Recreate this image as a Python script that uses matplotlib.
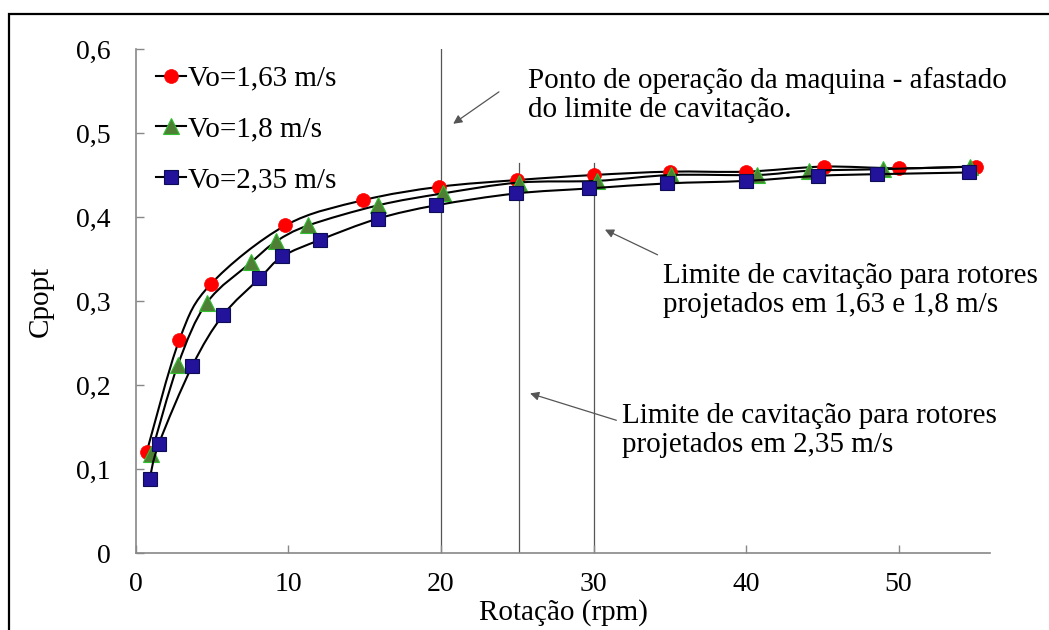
import matplotlib.pyplot as plt
from matplotlib.lines import Line2D
from matplotlib.patches import PathPatch, Rectangle
from matplotlib.path import Path

plt.rcParams["font.family"] = ["Liberation Serif", "DejaVu Serif"]

# data
x_163 = [0.7, 2.85, 4.9, 9.8, 14.9, 19.9, 25.0, 30.0, 35.0, 40.0, 45.1, 50.0, 55.1]
y_163 = [0.120, 0.254, 0.320, 0.390, 0.420, 0.436, 0.444, 0.450, 0.454, 0.454, 0.460, 0.458, 0.460]

x_18 = [1.0, 2.75, 4.65, 7.55, 9.2, 11.3, 15.9, 20.1, 25.1, 30.2, 35.1, 40.7, 44.1, 49.0, 54.7]
y_18 = [0.118, 0.224, 0.298, 0.346, 0.371, 0.390, 0.414, 0.428, 0.441, 0.443, 0.450, 0.450, 0.455, 0.457, 0.460]

x_235 = [0.9, 1.5, 3.7, 5.7, 8.1, 9.6, 12.1, 15.85, 19.7, 24.9, 29.7, 34.8, 40.0, 44.7, 48.6, 54.6]
y_235 = [0.088, 0.130, 0.223, 0.283, 0.327, 0.353, 0.373, 0.398, 0.414, 0.428, 0.434, 0.440, 0.443, 0.449, 0.451, 0.453]

labels = ["Vo=1,63 m/s", "Vo=1,8 m/s", "Vo=2,35 m/s"]

vline_x = [20, 25.1, 30]
vline_top = [0.6, 0.464, 0.464]

x_ticks = [0, 10, 20, 30, 40, 50]
y_ticks = [0, 0.1, 0.2, 0.3, 0.4, 0.5, 0.6]
y_tick_labels = ["0", "0,1", "0,2", "0,3", "0,4", "0,5", "0,6"]

notes = [
    "Ponto de operação da maquina - afastado\ndo limite de cavitação.",
    "Limite de cavitação para rotores\nprojetados em 1,63 e 1,8 m/s",
    "Limite de cavitação para rotores\nprojetados em 2,35 m/s",
]
note_xy = [(25.7, 0.545), (34.56, 0.313), (31.87, 0.146)]
arrow_head = [(20.8, 0.511), (30.75, 0.385), (25.84, 0.190)]
arrow_tail = [(23.8, 0.549), (34.2, 0.355), (31.5, 0.158)]


def smooth_path(xs, ys):
    # Catmull-Rom style cubic Bezier through the points (like Excel smoothed line)
    pts = list(zip(xs, ys))
    verts = [pts[0]]
    codes = [Path.MOVETO]
    n = len(pts)
    for i in range(n - 1):
        p0 = pts[i - 1] if i > 0 else pts[i]
        p1 = pts[i]
        p2 = pts[i + 1]
        p3 = pts[i + 2] if i + 2 < n else pts[i + 1]
        c1 = (p1[0] + (p2[0] - p0[0]) / 6, p1[1] + (p2[1] - p0[1]) / 6)
        c2 = (p2[0] - (p3[0] - p1[0]) / 6, p2[1] - (p3[1] - p1[1]) / 6)
        verts += [c1, c2, p2]
        codes += [Path.CURVE4] * 3
    return Path(verts, codes)


fig = plt.figure(figsize=(10.49, 6.3), dpi=100)
fig.patches.append(Rectangle((9 / 1049, -0.2), 1.2, 1.2 - 14 / 630, transform=fig.transFigure,
                             fill=False, edgecolor="black", linewidth=1.6))
ax = fig.add_axes([0.1296, 0.1222, 0.8142, 0.8])

for xv, top in zip(vline_x, vline_top):
    ax.plot([xv, xv], [0, top], color="#555555", linewidth=0.9, zorder=1)

styles = [
    dict(marker="o", markersize=10, markerfacecolor="#FF0000", markeredgecolor="#FF0000", markeredgewidth=0.5),
    dict(marker="^", markersize=11, markerfacecolor="#4E7F35", markeredgecolor="#2FBF2F", markeredgewidth=0.8),
    dict(marker="s", markersize=10, markerfacecolor="#22139A", markeredgecolor="#0D0D55", markeredgewidth=0.8),
]
series = [(x_163, y_163), (x_18, y_18), (x_235, y_235)]
handles = []
for k, ((xs, ys), st) in enumerate(zip(series, styles)):
    ax.add_patch(PathPatch(smooth_path(xs, ys), facecolor="none", edgecolor="black", linewidth=1.5, zorder=2 + 2 * k))
    ax.plot(xs, ys, linestyle="none", zorder=3 + 2 * k, **st)
    handles.append(Line2D([], [], color="black", linewidth=1.5, **st))

ax.legend(handles, labels, loc="upper left", bbox_to_anchor=(0.0, 1.008), frameon=False, fontsize=21,
          handlelength=1.0, handletextpad=0.08, labelspacing=0.83, borderaxespad=0.3)

for txt, xy, head, tail in zip(notes, note_xy, arrow_head, arrow_tail):
    ax.text(xy[0], xy[1], txt, fontsize=21, ha="left", va="center", linespacing=1.15)
    ax.annotate("", xy=head, xytext=tail,
                arrowprops=dict(arrowstyle="-|>", color="#555555", lw=0.9, mutation_scale=13,
                                shrinkA=0, shrinkB=0, facecolor="black"))

ax.set_xlim(0, 56)
ax.set_ylim(0, 0.6)
ax.set_xticks(x_ticks)
ax.set_yticks(y_ticks)
ax.set_yticklabels(y_tick_labels)
ax.tick_params(axis="both", direction="in", length=6, width=1, color="#888888", labelsize=20)
ax.tick_params(axis="y", pad=18)
ax.tick_params(axis="x", pad=14)
for side in ["top", "right"]:
    ax.spines[side].set_visible(False)
for side in ["left", "bottom"]:
    ax.spines[side].set_color("#888888")
    ax.spines[side].set_linewidth(1.2)

ax.set_xlabel("Rotação (rpm)", fontsize=21, labelpad=1)
ax.set_ylabel("Cpopt", fontsize=21, labelpad=16)

fig.savefig("out.png", dpi=100, facecolor="white")
plt.close()
